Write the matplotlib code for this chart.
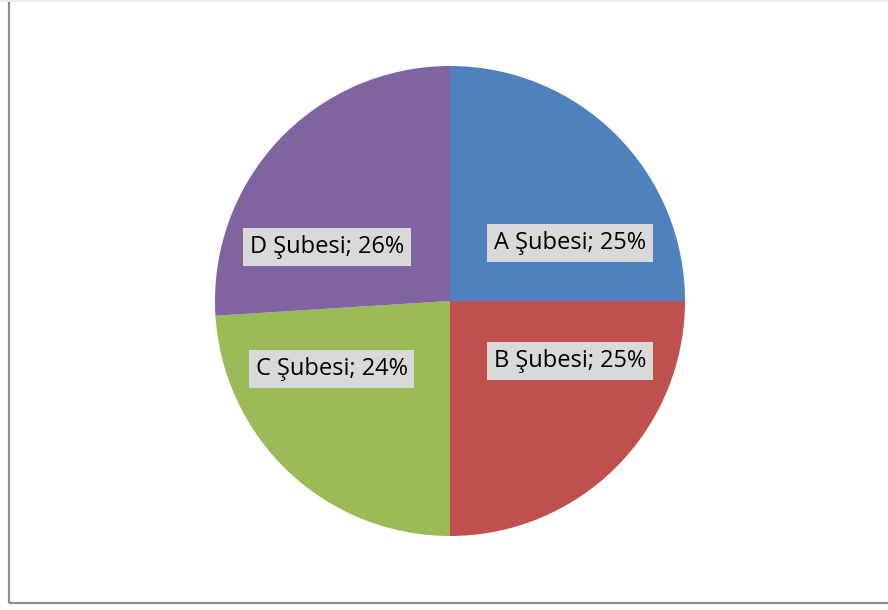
import matplotlib
matplotlib.use("Agg")
import matplotlib.pyplot as plt
from matplotlib.patches import Rectangle

branches = ["A Şubesi", "B Şubesi", "C Şubesi", "D Şubesi"]
shares = [25, 25, 24, 26]
colors = ["#4F81BD", "#C0504D", "#9BBB59", "#8064A2"]
# label centres in pie units (radius = 1)
label_pos = [(0.511, 0.247), (0.511, -0.255), (-0.504, -0.289), (-0.523, 0.230)]

fig = plt.figure(figsize=(8.88, 6.10), dpi=100)
fig.patch.set_facecolor("white")

# chart frame
fig.patches.append(Rectangle((9 / 888, 7 / 610), 1.0, 2.0, transform=fig.transFigure,
                             fill=False, edgecolor="#8c8c8c", linewidth=1.6))
fig.patches.append(Rectangle((0, 608 / 610), 1.0, 0.01, transform=fig.transFigure,
                             facecolor="#ececec", edgecolor="none"))

r_px = 235
cx, cy = 450, 610 - 301
ax = fig.add_axes([(cx - r_px) / 888, (cy - r_px) / 610, 2 * r_px / 888, 2 * r_px / 610])
ax.pie(shares, colors=colors, startangle=90, counterclock=False, radius=1,
       wedgeprops=dict(linewidth=0))
ax.set_xlim(-1, 1)
ax.set_ylim(-1, 1)
ax.set_aspect("equal")
ax.axis("off")

for name, val, (x, y) in zip(branches, shares, label_pos):
    ax.text(x, y, f"{name}; {val}%", ha="center", va="center", fontsize=17,
            family="Open Sans", color="black",
            bbox=dict(boxstyle="square,pad=0.28", facecolor="#D9D9D9", edgecolor="none"))

fig.savefig("out.png", dpi=100)
